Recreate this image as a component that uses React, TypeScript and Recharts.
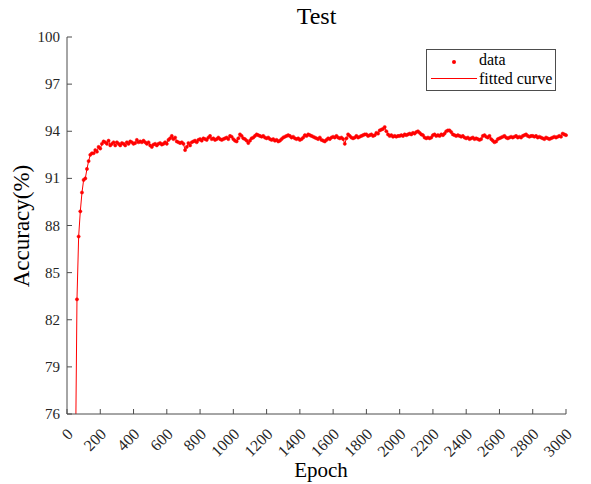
import { LineChart, Line, XAxis, YAxis } from 'recharts'

// accuracy sampled every 10 epochs, starting at epoch 50
const firstEpoch = 50
const step = 10
const acc = [
  72.0, 83.3, 87.3, 88.9, 90.1,
  90.9, 91.0, 91.6, 92.1, 92.5, 92.6, 92.6, 92.8, 92.7, 93.0,
  92.9, 93.2, 93.35, 93.3, 93.2, 93.4, 93.1, 93.2, 93.3, 93.1,
  93.3, 93.2, 93.1, 93.25, 93.2, 93.1, 93.3, 93.2, 93.35, 93.3,
  93.2, 93.25, 93.45, 93.3, 93.35, 93.3, 93.4, 93.3, 93.2, 93.3,
  93.1, 93.0, 93.15, 93.2, 93.1, 93.2, 93.25, 93.15, 93.2, 93.3,
  93.2, 93.45, 93.55, 93.7, 93.5, 93.6, 93.35, 93.3, 93.25, 93.3,
  93.2, 92.8, 93.0, 93.25, 93.1, 93.3, 93.35, 93.4, 93.3, 93.45,
  93.5, 93.4, 93.55, 93.5, 93.45, 93.6, 93.7, 93.5, 93.55, 93.45,
  93.5, 93.6, 93.5, 93.45, 93.5, 93.55, 93.6, 93.5, 93.7, 93.65,
  93.5, 93.4, 93.35, 93.55, 93.8, 93.7, 93.55, 93.5, 93.4, 93.25,
  93.4, 93.55, 93.6, 93.7, 93.8, 93.75, 93.7, 93.65, 93.7, 93.6,
  93.55, 93.6, 93.5, 93.45, 93.5, 93.4, 93.45, 93.35, 93.4, 93.5,
  93.6, 93.65, 93.7, 93.75, 93.7, 93.6, 93.65, 93.55, 93.5, 93.55,
  93.45, 93.5, 93.6, 93.75, 93.7, 93.8, 93.75, 93.7, 93.65, 93.6,
  93.55, 93.5, 93.6, 93.45, 93.4, 93.35, 93.45, 93.55, 93.5, 93.6,
  93.65, 93.6, 93.7, 93.6, 93.55, 93.6, 93.5, 93.2, 93.55, 93.8,
  93.7, 93.6, 93.55, 93.6, 93.7, 93.6, 93.65, 93.7, 93.75, 93.8,
  93.8, 93.7, 93.75, 93.8, 93.7, 93.75, 93.9, 93.85, 94.05, 94.1,
  94.15, 94.27, 94.0, 93.8, 93.7, 93.75, 93.65, 93.7, 93.65, 93.7,
  93.7, 93.75, 93.7, 93.8, 93.75, 93.8, 93.85, 93.8, 93.9, 93.85,
  93.95, 94.0, 93.9, 93.8, 93.75, 93.6, 93.55, 93.6, 93.55, 93.6,
  93.75, 93.8, 93.7, 93.75, 93.7, 93.8, 93.75, 93.85, 94.0, 94.05,
  94.05, 93.95, 93.8, 93.75, 93.7, 93.75, 93.7, 93.65, 93.7, 93.6,
  93.55, 93.6, 93.5, 93.55, 93.6, 93.5, 93.55, 93.5, 93.45, 93.5,
  93.7, 93.75, 93.65, 93.6, 93.7, 93.5, 93.4, 93.3, 93.35, 93.5,
  93.55, 93.6, 93.65, 93.7, 93.6, 93.55, 93.6, 93.65, 93.6, 93.65,
  93.7, 93.6, 93.65, 93.6, 93.7, 93.75, 93.8, 93.7, 93.65, 93.7,
  93.7, 93.65, 93.7, 93.6, 93.65, 93.6, 93.55, 93.5, 93.6, 93.55,
  93.5, 93.55, 93.6, 93.65, 93.6, 93.65, 93.7, 93.65, 93.85, 93.8,
  93.75,
]

const xTicks = [0, 200, 400, 600, 800, 1000, 1200, 1400, 1600, 1800, 2000, 2200, 2400, 2600, 2800, 3000]
const yTicks = [76, 79, 82, 85, 88, 91, 94, 97, 100]

const data = acc.map((v, i) => ({ epoch: firstEpoch + i * step, acc: v }))

const SERIF = '"Liberation Serif", "Times New Roman", serif'
const AXIS = '#4d4d4d'
const TXT = '#262626'
const RED = '#ff0000'

const BottomTick = ({ x, y, payload }: any) => (
  <g>
    <line x1={x} y1={y} x2={x} y2={y - 5} stroke={AXIS} />
    <text
      x={x + 7}
      y={y + 21}
      textAnchor="end"
      fontSize={16}
      fontFamily={SERIF}
      fill={TXT}
      transform={`rotate(-45, ${x + 7}, ${y + 21})`}
    >
      {payload.value}
    </text>
  </g>
)

const LeftTick = ({ x, y, payload }: any) => (
  <g>
    <line x1={x} y1={y} x2={x + 5} y2={y} stroke={AXIS} />
    <text x={x - 7} y={y + 5} textAnchor="end" fontSize={15} fontFamily={SERIF} fill={TXT}>
      {payload.value}
    </text>
  </g>
)

const TopTick = ({ x, y }: any) => <line x1={x} y1={y} x2={x} y2={y + 5} stroke={AXIS} />
const RightTick = ({ x, y }: any) => <line x1={x} y1={y} x2={x - 5} y2={y} stroke={AXIS} />

export default function App() {
  return (
    <div style={{ position: 'absolute', left: 0, top: 0, width: 591, height: 484, background: '#fff', fontFamily: SERIF }}>
      <LineChart width={591} height={484} data={data} margin={{ top: 37, right: 25, left: 0, bottom: 0 }}>
        <XAxis
          dataKey="epoch"
          type="number"
          domain={[0, 3000]}
          ticks={xTicks}
          interval={0}
          height={70}
          tickSize={0}
          tickMargin={0}
          stroke={AXIS}
          tick={<BottomTick />}
        />
        <XAxis
          xAxisId="top"
          orientation="top"
          dataKey="epoch"
          type="number"
          domain={[0, 3000]}
          ticks={xTicks}
          interval={0}
          height={0}
          tickSize={0}
          tickMargin={0}
          stroke={AXIS}
          tick={<TopTick />}
        />
        <YAxis
          type="number"
          domain={[76, 100]}
          ticks={yTicks}
          interval={0}
          allowDataOverflow
          width={67}
          tickSize={0}
          tickMargin={0}
          stroke={AXIS}
          tick={<LeftTick />}
        />
        <YAxis
          yAxisId="right"
          orientation="right"
          type="number"
          domain={[76, 100]}
          ticks={yTicks}
          interval={0}
          allowDataOverflow
          width={0}
          tickSize={0}
          tickMargin={0}
          stroke={AXIS}
          tick={<RightTick />}
        />
        <Line
          dataKey="acc"
          name="fitted curve"
          stroke={RED}
          strokeWidth={1}
          dot={false}
          isAnimationActive={false}
        />
        <Line
          dataKey="acc"
          name="data"
          stroke="none"
          dot={{ r: 1.6, fill: RED, stroke: RED, strokeWidth: 0.5 }}
          isAnimationActive={false}
        />
      </LineChart>

      <div style={{ position: 'absolute', left: 0, top: 3, width: 633, textAlign: 'center', fontSize: 24, color: '#000' }}>Test</div>
      <div style={{ position: 'absolute', left: 0, top: 458, width: 642, textAlign: 'center', fontSize: 21, color: '#000' }}>Epoch</div>
      <div
        style={{
          position: 'absolute',
          left: 22,
          top: 226,
          transform: 'translate(-50%, -50%) rotate(-90deg)',
          fontSize: 23,
          whiteSpace: 'nowrap',
          color: '#000',
        }}
      >
        Accuracy(%)
      </div>

      <div
        style={{
          position: 'absolute',
          left: 426,
          top: 49,
          width: 128,
          height: 40,
          border: `1px solid ${AXIS}`,
          background: '#fff',
          fontSize: 16,
          color: '#000',
        }}
      >
        <div style={{ position: 'absolute', left: 25, top: 10, width: 4, height: 4, background: RED, borderRadius: 2 }} />
        <div style={{ position: 'absolute', left: 52, top: 1, lineHeight: '18px' }}>data</div>
        <div style={{ position: 'absolute', left: 4, top: 28, width: 46, height: 1, background: RED }} />
        <div style={{ position: 'absolute', left: 52, top: 20, lineHeight: '18px' }}>fitted curve</div>
      </div>
    </div>
  )
}
